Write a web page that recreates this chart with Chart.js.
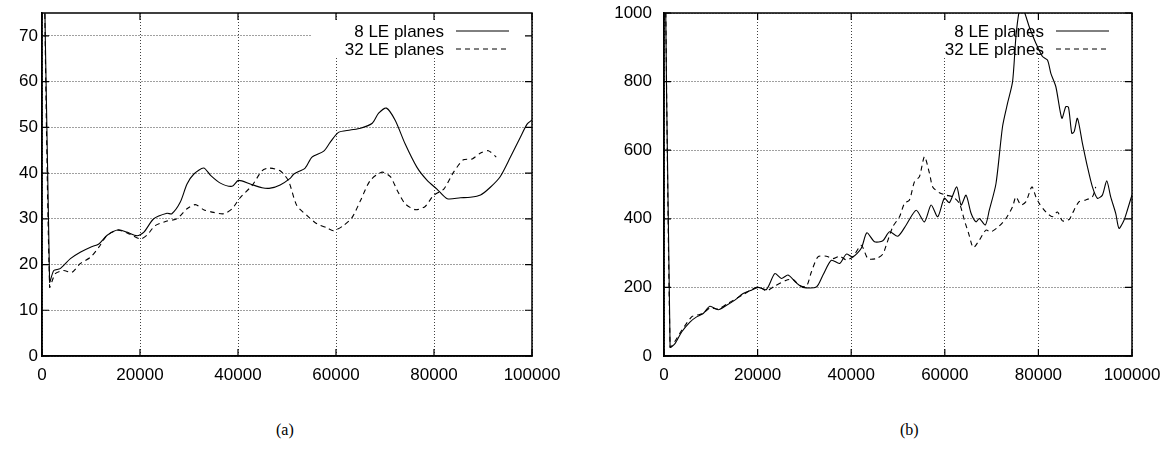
<!DOCTYPE html>
<html>
<head>
<meta charset="utf-8">
<script src="https://cdn.jsdelivr.net/npm/chart.js@4.4.1/dist/chart.umd.min.js"></script>
<style>
  html, body { margin: 0; padding: 0; background: #fff; }
  #page { position: relative; width: 1170px; height: 460px; overflow: hidden; }
  .box { position: absolute; top: 0; width: 585px; height: 400px; }
  .cap { position: absolute; top: 421px; font: 16px "Liberation Serif", serif; color: #000; }
</style>
</head>
<body>
<div id="page">
  <div class="box" style="left:0"><canvas id="chart-a"></canvas></div>
  <div class="box" style="left:585px"><canvas id="chart-b"></canvas></div>
  <div class="cap" style="left:276px">(a)</div>
  <div class="cap" style="left:900px">(b)</div>
</div>
<script>
// values, [x, y] pairs

const seriesLabels = ['8 LE planes', '32 LE planes'];
const xTicks = [0, 20000, 40000, 60000, 80000, 100000];

// (a)
const aTicksY = [0, 10, 20, 30, 40, 50, 60, 70];
const aSolid = [
  [0, 120], [1550, 16.2], [2400, 18.7], [3700, 19.1], [5800, 21.3], [7800, 22.7],
  [9900, 23.8], [11600, 24.5], [13300, 26.4], [15600, 27.6], [17300, 27.1], [19400, 26.3],
  [20800, 27.1], [22800, 30.0], [25500, 31.2], [26500, 31.1], [28200, 33.6], [29600, 37.6],
  [31000, 39.8], [33000, 41.1], [34400, 39.5], [36400, 37.8], [38800, 37.1], [40100, 38.4],
  [42500, 37.6], [44900, 36.8], [46600, 36.7], [48600, 37.4], [50700, 38.9], [51400, 39.8],
  [53700, 41.1], [55100, 43.5], [57500, 44.8], [58800, 46.7], [60500, 48.9], [62900, 49.4],
  [65000, 49.8], [67400, 50.9], [68700, 53.1], [70300, 54.2], [72100, 51.5], [74100, 46.4],
  [76500, 41.3], [78600, 38.4], [80600, 36.5], [82700, 34.4], [85400, 34.6], [87400, 34.7],
  [89500, 35.2], [91500, 36.9], [93500, 39.2], [95600, 43.5], [97600, 47.8], [99000, 50.7],
  [100000, 51.6],
];
const aDashed = [
  [0, 120], [1550, 15.1], [2700, 18.0], [4400, 18.7], [6100, 18.3], [7800, 20.2],
  [9900, 21.6], [11600, 23.8], [13300, 26.4], [15600, 27.5], [18000, 26.6], [20100, 25.6],
  [21400, 26.4], [23100, 28.5], [25500, 29.5], [27500, 30.0], [29600, 32.2], [31300, 33.1],
  [33000, 32.0], [35000, 31.4], [37100, 31.1], [38800, 32.2], [40500, 34.7], [42900, 37.3],
  [44900, 40.5], [46300, 41.1], [48600, 40.5], [50300, 38.3], [52000, 32.9], [54100, 30.7],
  [56100, 28.9], [58200, 28.0], [59500, 27.4], [61500, 28.5], [63300, 30.3], [65000, 34.0],
  [67000, 38.4], [69400, 40.2], [71100, 39.2], [72500, 36.2], [74100, 33.3], [76200, 32.0],
  [78200, 32.7], [79900, 35.1], [82000, 36.5], [84000, 40.2], [86000, 42.9], [87800, 43.1],
  [89500, 44.4], [91100, 44.9], [92700, 43.5],
];

// (b)
const bTicksY = [0, 200, 400, 600, 800, 1000];
const bSolid = [
  [0, 1500], [1300, 26], [2350, 36], [3770, 70], [5540, 99], [6970, 114], [8380, 124],
  [9810, 145], [11580, 135], [13370, 148], [15140, 163], [16910, 182], [18700, 192],
  [20110, 200], [21900, 194], [23670, 240], [25100, 226], [26500, 236], [28290, 213],
  [29700, 200], [32560, 201], [33970, 236], [35760, 279], [37530, 270], [38960, 297],
  [40360, 289], [42150, 314], [43350, 359], [44990, 333], [46760, 336], [48190, 362],
  [49960, 349], [51750, 382], [53880, 425], [55650, 391], [57080, 440], [58490, 406],
  [59910, 460], [60980, 447], [62540, 493], [63480, 440], [64540, 469], [65610, 416],
  [66670, 391], [67380, 401], [68660, 382], [69510, 425], [70940, 503], [72340, 669],
  [73410, 737], [74480, 800], [75200, 931], [75900, 1005], [76500, 1010], [77000, 1003],
  [78040, 960], [79460, 912], [80870, 873], [81940, 863], [82660, 824], [83730, 785],
  [85010, 693], [85860, 727], [86430, 725], [87140, 649], [87640, 654], [88340, 693],
  [89410, 620], [90470, 552], [91540, 493], [92600, 460], [93670, 469], [94600, 511],
  [95450, 464], [96520, 416], [97230, 372], [98290, 396], [99000, 425], [100000, 470],
];
const bDashed = [
  [0, 1500], [1300, 26], [2200, 40], [3800, 75], [5900, 114], [6970, 119], [8380, 124],
  [9810, 140], [11580, 137], [13370, 151], [16910, 179], [20110, 202], [21900, 190],
  [23670, 204], [26160, 221], [27570, 223], [29000, 206], [30420, 203], [31490, 245],
  [32900, 289], [34690, 291], [36100, 284], [37530, 291], [38960, 280], [40360, 289],
  [42150, 323], [43570, 284], [45350, 284], [46760, 297], [47480, 323], [48900, 377],
  [50320, 406], [51390, 445], [52450, 455], [53520, 508], [54580, 523], [55650, 581],
  [56720, 533], [57420, 493], [58850, 476], [60280, 469], [61690, 464], [63110, 445],
  [64180, 396], [65100, 357], [66100, 316], [67380, 338], [68800, 367], [69870, 362],
  [71640, 379], [73070, 401], [74480, 435], [75200, 464], [76270, 440], [77340, 450],
  [78610, 493], [79460, 464], [80170, 445], [81600, 420], [83010, 406], [84070, 420],
  [85140, 394], [86570, 398], [87270, 416], [88700, 450], [90120, 455], [91540, 464],
  [92250, 493],
];

const FONT = '"Liberation Sans", Arial, sans-serif';
Chart.defaults.font.family = FONT;
Chart.defaults.font.size = 17;
Chart.defaults.color = '#000';

// gnuplot look: solid frame, inward mirrored ticks, key with sample on the right
const gnuFrame = {
  id: 'gnuFrame',
  beforeDatasetsDraw(chart) {
    const { ctx, chartArea: a } = chart;
    ctx.save();
    ctx.fillStyle = '#fff';
    ctx.fillRect(a.right - 220, a.top + 8, 219, 36);
    ctx.restore();
  },
  afterDraw(chart) {
    const { ctx, chartArea: a, scales } = chart;
    ctx.save();
    ctx.strokeStyle = '#000';
    ctx.lineWidth = 1.5;
    ctx.strokeRect(a.left, a.top, a.right - a.left, a.bottom - a.top);
    ctx.lineWidth = 1.2;
    ctx.beginPath();
    scales.y.ticks.forEach((t) => {
      const y = scales.y.getPixelForValue(t.value);
      ctx.moveTo(a.left, y); ctx.lineTo(a.left + 7, y);
      ctx.moveTo(a.right, y); ctx.lineTo(a.right - 7, y);
    });
    scales.x.ticks.forEach((t) => {
      const x = scales.x.getPixelForValue(t.value);
      ctx.moveTo(x, a.bottom); ctx.lineTo(x, a.bottom - 7);
      ctx.moveTo(x, a.top); ctx.lineTo(x, a.top + 7);
    });
    ctx.stroke();

    ctx.font = '17px ' + FONT;
    ctx.textAlign = 'right';
    ctx.textBaseline = 'alphabetic';
    ctx.fillStyle = '#000';
    ctx.lineWidth = 1;
    chart.data.datasets.forEach((ds, i) => {
      const y = a.top + 18 + i * 18;
      ctx.fillText(ds.label, a.right - 88, y + 5.5);
      ctx.setLineDash(ds.borderDash || []);
      ctx.beginPath();
      ctx.moveTo(a.right - 76, y);
      ctx.lineTo(a.right - 23, y);
      ctx.stroke();
    });
    ctx.restore();
  },
};

function pts(arr) {
  return arr.map(([x, y]) => ({ x, y }));
}

function panel(id, solid, dashed, yTicks, yMax, opt) {
  const el = document.getElementById(id);
  return new Chart(el.getContext('2d'), {
    type: 'line',
    data: {
      datasets: [
        { label: seriesLabels[0], data: pts(solid), borderColor: '#000', borderWidth: 1.1, pointRadius: 0, tension: 0.25 },
        { label: seriesLabels[1], data: pts(dashed), borderColor: '#000', borderWidth: 1.1, borderDash: [5, 4], pointRadius: 0, tension: 0.25 },
      ],
    },
    options: {
      responsive: true,
      maintainAspectRatio: false,
      animation: false,
      events: [],
      layout: { padding: { left: 0, top: 13, right: opt.padRight, bottom: 0 } },
      plugins: { legend: { display: false }, tooltip: { enabled: false } },
      scales: {
        x: {
          type: 'linear',
          min: 0,
          max: 100000,
          afterBuildTicks: (s) => { s.ticks = xTicks.map((v) => ({ value: v })); },
          afterFit: (s) => { s.height = 44; s.paddingLeft = 0; s.paddingRight = 0; },
          grid: { color: 'rgba(0,0,0,0.75)', lineWidth: 1, drawTicks: false },
          border: { display: true, color: '#000', width: 1.5, dash: [1, 2] },
          ticks: { padding: 9, maxRotation: 0, autoSkip: false, callback: (v) => String(v) },
        },
        y: {
          type: 'linear',
          min: 0,
          max: yMax,
          afterBuildTicks: (s) => { s.ticks = yTicks.map((v) => ({ value: v })); },
          afterFit: (s) => { s.width = opt.yWidth; s.paddingTop = 0; s.paddingBottom = 0; },
          grid: { color: 'rgba(0,0,0,0.75)', lineWidth: 1, drawTicks: false },
          border: { display: true, color: '#000', width: 1.5, dash: [1, 2] },
          ticks: { padding: opt.yPad, callback: (v) => String(v) },
        },
      },
    },
    plugins: [gnuFrame],
  });
}

panel('chart-a', aSolid, aDashed, aTicksY, 75, { padRight: 53, yWidth: 42, yPad: 4 });
panel('chart-b', bSolid, bDashed, bTicksY, 1000, { padRight: 38, yWidth: 79, yPad: 12 });
</script>
</body>
</html>
